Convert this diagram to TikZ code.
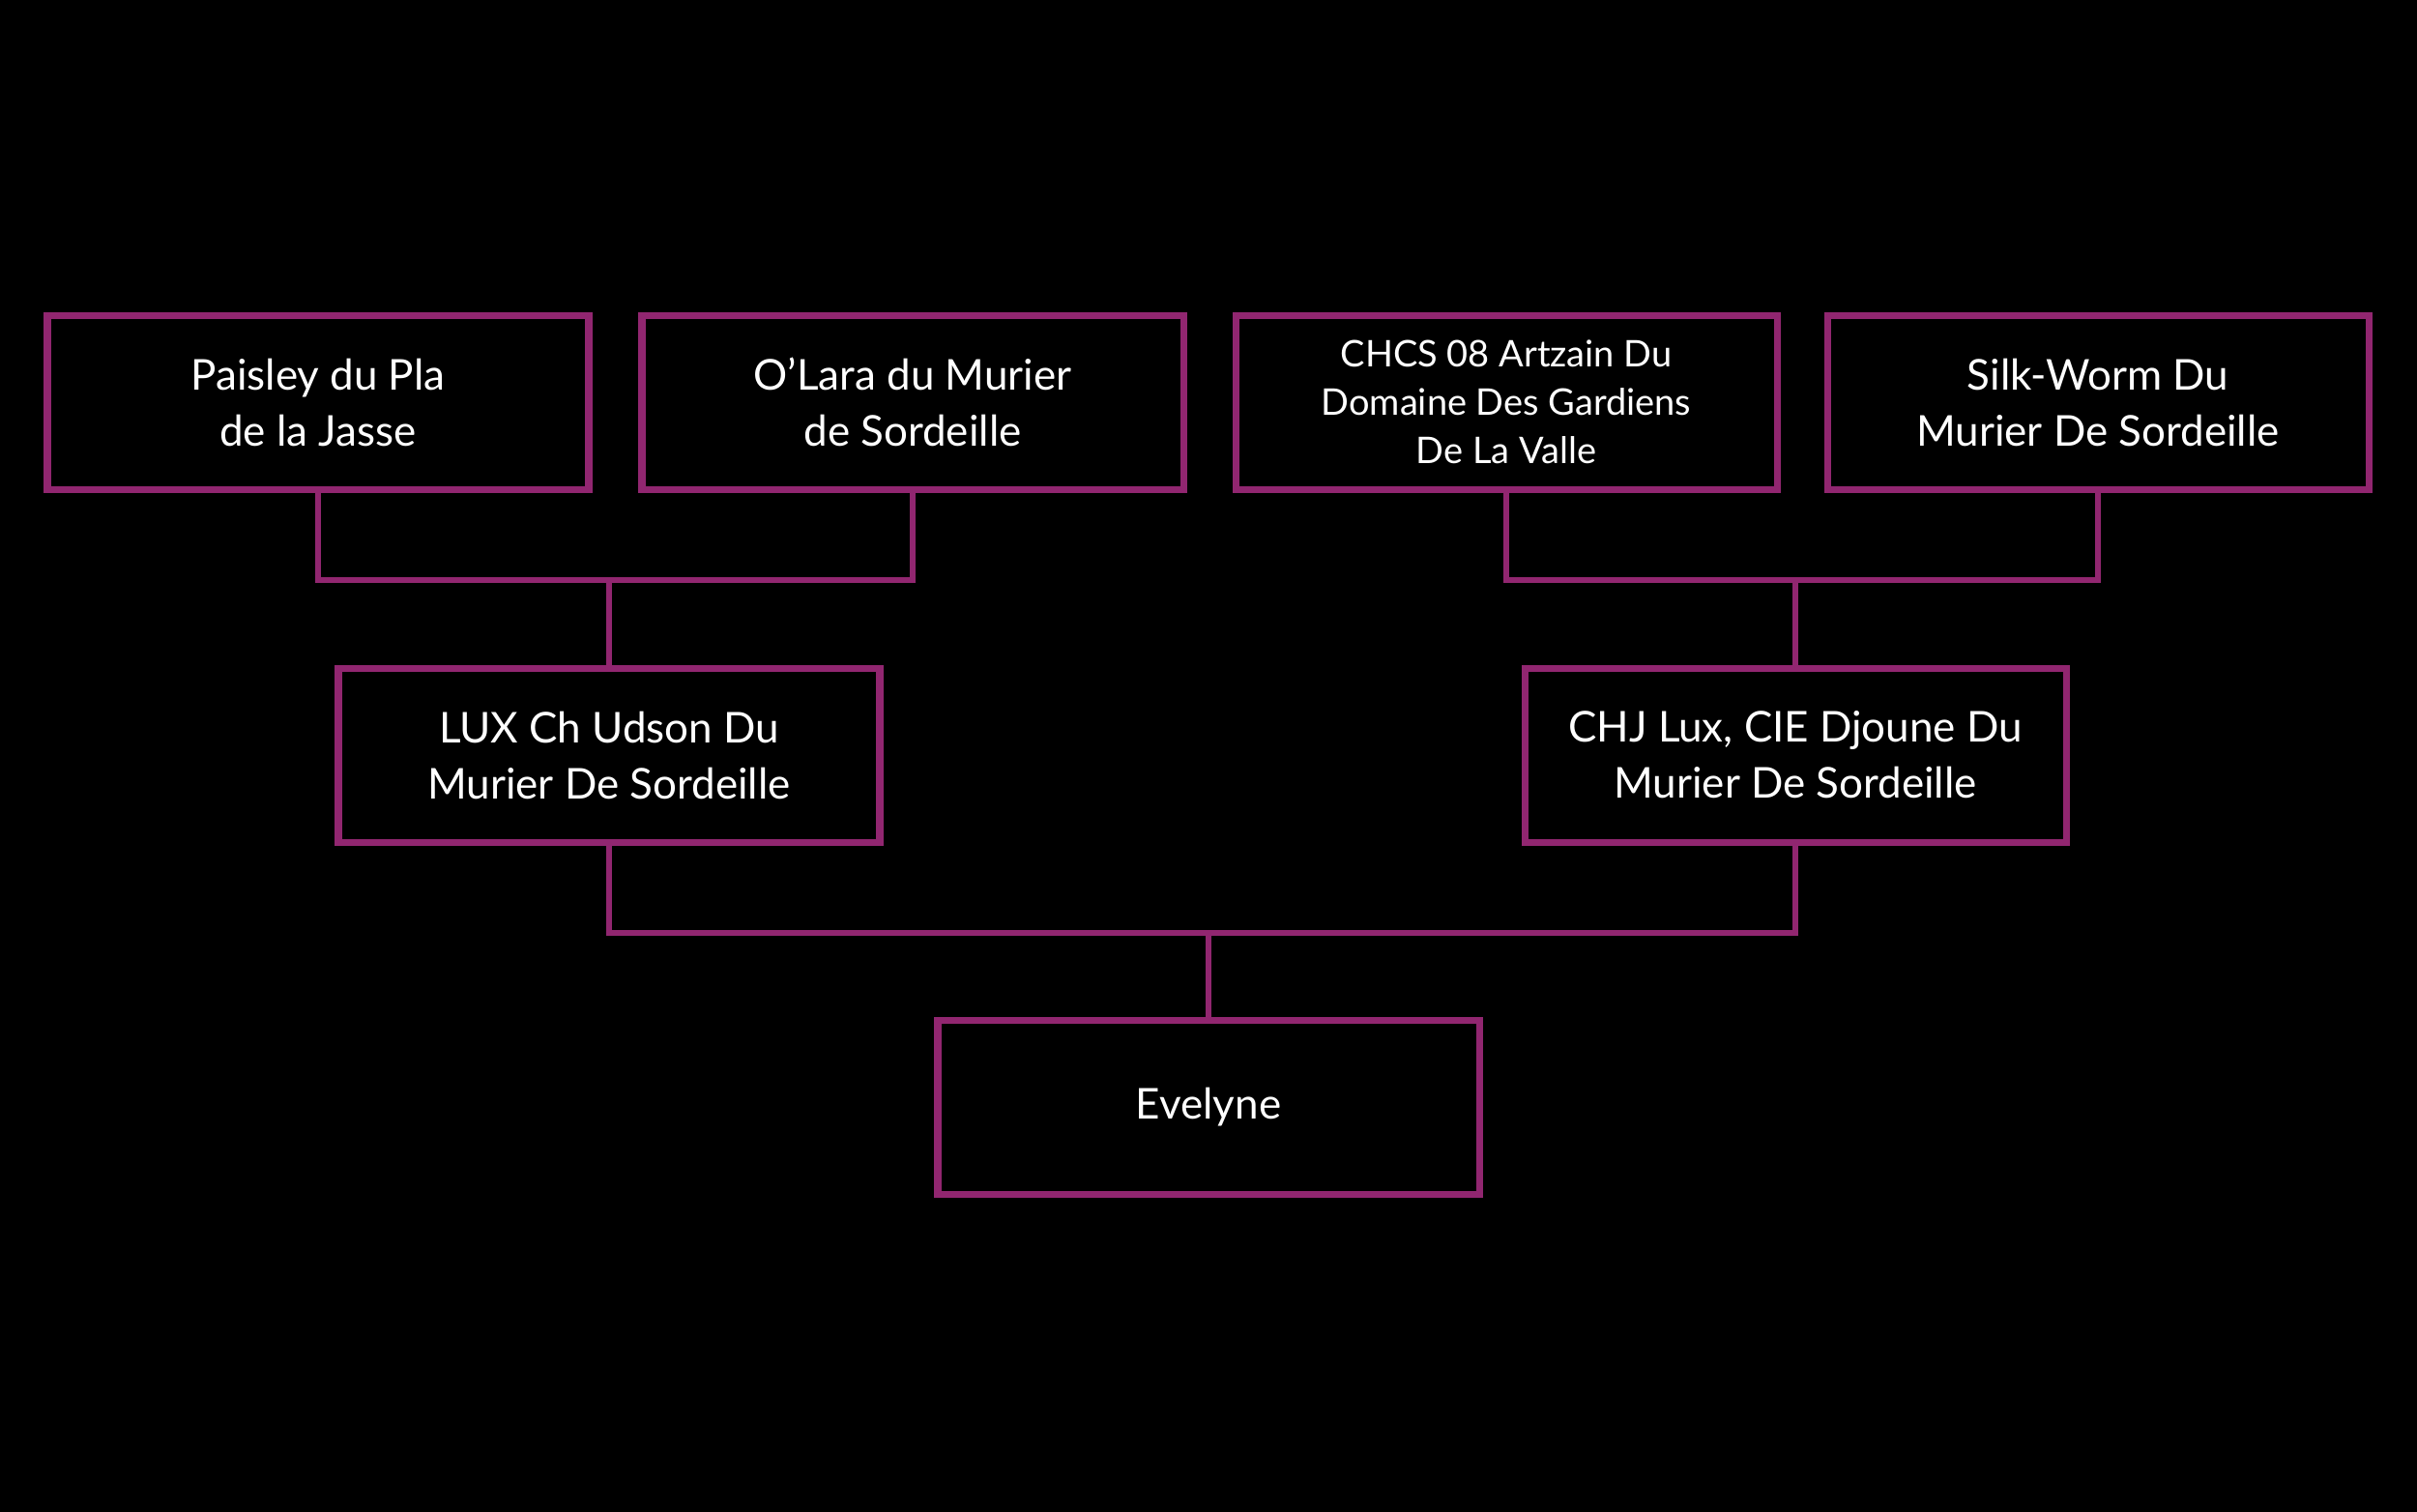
\documentclass[tikz,border=0pt]{standalone}
\usepackage{fontspec}
\setmainfont{Lato}
\usetikzlibrary{positioning}
\definecolor{plum}{HTML}{912670}
\tikzset{
  dogbox/.style={draw=plum, line width=2pt, fill=black, text=white,
    minimum width=5.6cm, minimum height=1.8cm, inner sep=0pt, outer sep=0pt,
    align=center, font=\fontsize{12.5}{16.5}\selectfont},
  link/.style={draw=plum, line width=1.8pt},
}
\begin{document}
\begin{tikzpicture}
\useasboundingbox (0,0) rectangle (25,-15.63);
\fill[black] (-0.2,0.2) rectangle (25.2,-15.83);
% grandparents
\node[dogbox] (gp1) at (3.29,-4.16) {Paisley du Pla\\de la Jasse};
\node[dogbox] (gp2) at (9.44,-4.16) {O'Lara du Murier\\de Sordeille};
\node[dogbox, font=\fontsize{10.8}{14.3}\selectfont] (gp3) at (15.58,-4.16) {CHCS 08 Artzain Du\\Domaine Des Gardiens\\De La Valle};
\node[dogbox] (gp4) at (21.70,-4.16) {Silk-Worm Du\\Murier De Sordeille};
% parents
\node[dogbox] (sire) at (6.30,-7.81) {LUX Ch Udson Du\\Murier De Sordeille};
\node[dogbox] (dam) at (18.57,-7.81) {CHJ Lux, CIE Djoune Du\\Murier De Sordeille};
% puppy
\node[dogbox] (pup) at (12.50,-11.45) {Evelyne};
% links
\coordinate (jl) at (6.30,-6.00);
\coordinate (jr) at (18.57,-6.00);
\coordinate (jm) at (12.50,-9.65);
\draw[link] (gp1.south) |- (jl) -| (gp2.south);
\draw[link] (jl) -- (sire.north);
\draw[link] (gp3.south) |- (jr) -| (gp4.south);
\draw[link] (jr) -- (dam.north);
\draw[link] (sire.south) |- (jm) -| (dam.south);
\draw[link] (jm) -- (pup.north);
\end{tikzpicture}
\end{document}
